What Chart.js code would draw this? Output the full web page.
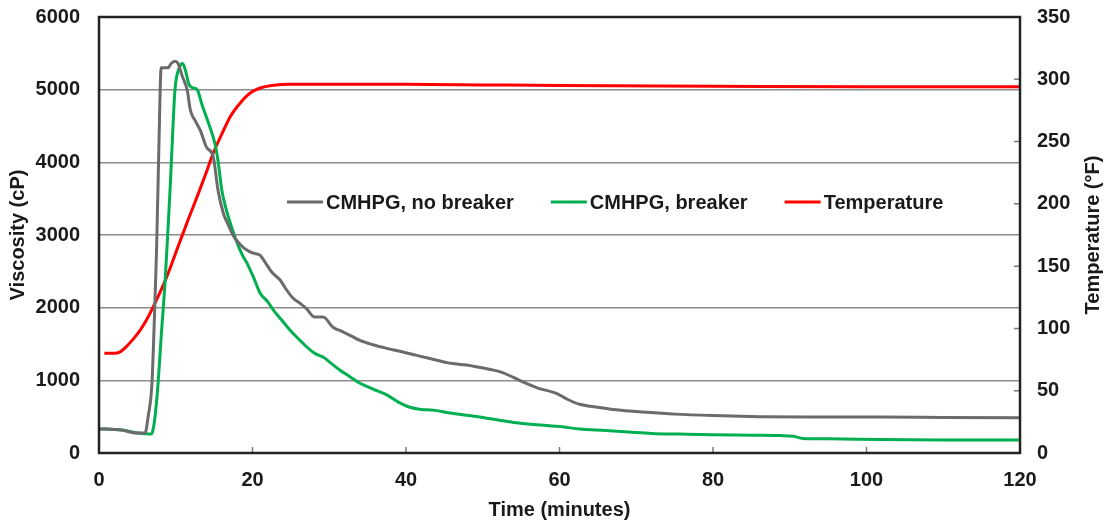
<!DOCTYPE html>
<html>
<head>
<meta charset="utf-8">
<script src="https://cdn.jsdelivr.net/npm/chart.js@4"></script>
<style>
  body { margin: 0; background: #fff; }
  #wrap { width: 1108px; height: 524px; }
</style>
</head>
<body>
<div id="wrap"><canvas id="viscosity-chart"></canvas></div>
<script>
// Time (minutes) / viscosity (cP), CMHPG without breaker
const noBreakerTime = [0, 1, 2, 3, 4, 5, 6, 6.4, 6.9, 7.2, 7.5, 7.8, 8.1, 8.6, 9.0, 9.4, 9.9, 10.3, 10.8, 11.5, 11.9, 12.5, 13.2, 14.0, 14.9, 15.5, 16.2, 16.8, 17.5, 18.4, 19.3, 20.1, 21.0, 21.8, 22.5, 23.6, 24.4, 25.3, 26.2, 27.0, 28.1, 29.2, 30.5, 31.5, 32.7, 34.0, 35.7, 37.5, 39.2, 41.5, 43.5, 45.5, 47.9, 49.5, 51.0, 52.5, 54.0, 55.2, 57.0, 59.6, 61.0, 62.6, 65.0, 67.0, 71.4, 75, 80, 86, 93, 101.7, 110, 120];
const noBreakerVisc = [330, 330, 325, 315, 290, 275, 275, 500, 960, 1800, 2790, 4200, 5300, 5300, 5300, 5360, 5390, 5360, 5200, 4990, 4720, 4580, 4440, 4210, 4070, 3620, 3300, 3150, 2990, 2870, 2790, 2750, 2720, 2600, 2490, 2380, 2250, 2130, 2060, 1990, 1870, 1870, 1730, 1680, 1620, 1550, 1490, 1440, 1400, 1340, 1290, 1240, 1210, 1180, 1150, 1110, 1040, 980, 900, 820, 740, 670, 630, 600, 560, 535, 515, 500, 495, 495, 490, 485];

// CMHPG with breaker
const breakerTime = [0, 1, 2, 3, 4, 5, 6, 6.8, 7.0, 7.3, 7.7, 8.1, 8.6, 9.0, 9.3, 9.6, 9.9, 10.5, 10.9, 11.3, 11.7, 12.1, 12.8, 13.4, 14.0, 15.1, 15.5, 16.0, 16.5, 17.0, 18.0, 18.7, 19.3, 20.2, 21.0, 22.0, 22.7, 23.8, 24.9, 26.2, 27.5, 28.3, 29.2, 30.3, 31.4, 32.7, 34.0, 35.7, 37.5, 39.0, 40.5, 42.0, 43.5, 45.5, 47.9, 50.0, 52.2, 54.0, 57.0, 60.4, 62.6, 66.0, 69.0, 72.0, 75.7, 80, 85, 88.7, 90.5, 91.7, 95, 101.7, 110, 120];
const breakerVisc = [330, 330, 325, 315, 295, 275, 265, 260, 300, 500, 960, 1600, 2340, 3100, 3710, 4400, 5000, 5310, 5360, 5250, 5080, 5030, 5000, 4800, 4620, 4260, 4030, 3620, 3380, 3200, 2890, 2720, 2610, 2400, 2200, 2080, 1970, 1830, 1690, 1550, 1420, 1360, 1320, 1230, 1140, 1050, 960, 880, 800, 700, 630, 600, 590, 555, 520, 490, 450, 420, 390, 360, 330, 310, 290, 270, 260, 250, 245, 240, 230, 200, 195, 185, 180, 180];

// Temperature (°F)
const tempTime = [0.7, 1, 2, 2.7, 3.5, 4.4, 5.3, 6.2, 7.5, 8.8, 10.5, 11.6, 12.8, 13.9, 14.9, 16, 17.1, 18.4, 19.7, 21, 22.5, 25, 30, 40, 50, 60, 80, 100, 120];
const tempVals = [80, 80, 80, 81, 85, 91, 98, 107, 123, 141, 169, 187, 206, 224, 241, 256, 270, 281, 289, 293, 295, 296, 296, 296, 295.5, 295, 294.5, 294, 294];

const xTicks = [0, 20, 40, 60, 80, 100, 120];
const viscTicks = [0, 1000, 2000, 3000, 4000, 5000, 6000];
const tempTicks = [0, 50, 100, 150, 200, 250, 300, 350];

const FONT = 'Arial, "Liberation Sans", sans-serif';
const TEXT = '#1a1a1a';

function toPoints(xs, ys) {
    return xs.map((x, i) => ({ x: x, y: ys[i] }));
}

// frame, inner tick marks, right axis title and the in-plot legend
const framePlugin = {
    id: 'frame',
    afterDatasetsDraw(chart) {
        const ctx = chart.ctx;
        const a = chart.chartArea;
        const xs = chart.scales.x;
        const ys = chart.scales.y1;
        ctx.save();
        ctx.strokeStyle = '#7a7a7a';
        ctx.lineWidth = 1.5;
        ctx.beginPath();
        xTicks.slice(1, -1).forEach(v => {
            const px = xs.getPixelForValue(v);
            ctx.moveTo(px, a.bottom - 6);
            ctx.lineTo(px, a.bottom);
        });
        tempTicks.slice(1, -1).forEach(v => {
            const py = ys.getPixelForValue(v);
            ctx.moveTo(a.right - 6, py);
            ctx.lineTo(a.right, py);
        });
        ctx.stroke();

        ctx.strokeStyle = '#222';
        ctx.lineWidth = 2.5;
        ctx.strokeRect(a.left, a.top, a.right - a.left, a.bottom - a.top);

        ctx.font = 'bold 20px ' + FONT;
        ctx.fillStyle = TEXT;

        // right axis title, reading bottom to top like the left one
        ctx.save();
        ctx.translate(1093, (a.top + a.bottom) / 2);
        ctx.rotate(-Math.PI / 2);
        ctx.textAlign = 'center';
        ctx.textBaseline = 'middle';
        ctx.fillText('Temperature (°F)', 0, 0);
        ctx.restore();

        // legend
        const items = chart.data.datasets;
        let x = a.left + 188;
        const y = a.top + 185;
        ctx.textBaseline = 'middle';
        items.forEach(ds => {
            ctx.strokeStyle = ds.borderColor;
            ctx.lineWidth = 3;
            ctx.beginPath();
            ctx.moveTo(x, y);
            ctx.lineTo(x + 36, y);
            ctx.stroke();
            ctx.fillText(ds.label, x + 39, y + 1);
            x += 39 + ctx.measureText(ds.label).width + 37;
        });
        ctx.restore();
    }
};

const tickFont = { family: FONT, size: 20, weight: 'bold' };
const plainLabel = v => String(v);

// fixed axis sizes so the plot area sits where the original's does
function fitVertical(width) {
    return s => {
        s.width = width;
        s.paddingTop = 0;
        s.paddingBottom = 0;
    };
}

document.addEventListener('DOMContentLoaded', function() {
    const ctx = document.getElementById('viscosity-chart').getContext('2d');
    new Chart(ctx, {
        type: 'line',
        data: {
            datasets: [{
                label: 'CMHPG, no breaker',
                data: toPoints(noBreakerTime, noBreakerVisc),
                borderColor: '#6b6b6b',
                yAxisID: 'y'
            }, {
                label: 'CMHPG, breaker',
                data: toPoints(breakerTime, breakerVisc),
                borderColor: '#00b050',
                yAxisID: 'y'
            }, {
                label: 'Temperature',
                data: toPoints(tempTime, tempVals),
                borderColor: '#ff0000',
                yAxisID: 'y1'
            }]
        },
        options: {
            responsive: true,
            maintainAspectRatio: false,
            animation: false,
            layout: { padding: { top: 17, left: 0, right: 0, bottom: 0 } },
            elements: {
                point: { radius: 0 },
                line: { borderWidth: 3, cubicInterpolationMode: 'monotone' }
            },
            plugins: {
                legend: { display: false },
                tooltip: { enabled: false }
            },
            scales: {
                x: {
                    type: 'linear',
                    min: 0,
                    max: 120,
                    afterFit: s => { s.height = 71; s.paddingLeft = 0; s.paddingRight = 0; },
                    afterBuildTicks: s => { s.ticks = xTicks.map(v => ({ value: v })); },
                    grid: { display: false, drawTicks: false },
                    border: { display: false },
                    ticks: { padding: 15, maxRotation: 0, color: TEXT, font: tickFont, callback: plainLabel },
                    title: {
                        display: true,
                        text: 'Time (minutes)',
                        color: TEXT,
                        padding: { top: 0, bottom: 2 },
                        font: tickFont
                    }
                },
                y: {
                    position: 'left',
                    min: 0,
                    max: 6000,
                    afterFit: fitVertical(99),
                    afterBuildTicks: s => { s.ticks = viscTicks.map(v => ({ value: v })); },
                    grid: { color: '#8c8c8c', lineWidth: 1.5, drawTicks: false },
                    border: { display: false },
                    ticks: { padding: 19, color: TEXT, font: tickFont, callback: plainLabel },
                    title: {
                        display: true,
                        text: 'Viscosity (cP)',
                        color: TEXT,
                        padding: { top: 6, bottom: 0 },
                        font: tickFont
                    }
                },
                y1: {
                    position: 'right',
                    min: 0,
                    max: 350,
                    afterFit: fitVertical(88),
                    afterBuildTicks: s => { s.ticks = tempTicks.map(v => ({ value: v })); },
                    grid: { display: false, drawTicks: false },
                    border: { display: false },
                    ticks: { padding: 17, color: TEXT, font: tickFont, callback: plainLabel }
                }
            }
        },
        plugins: [framePlugin]
    });
});
</script>
</body>
</html>
